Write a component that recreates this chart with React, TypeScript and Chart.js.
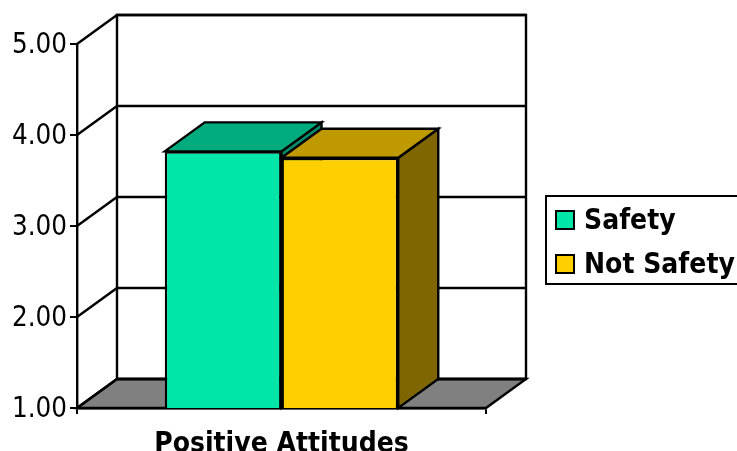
import React, { useEffect, useRef } from "react";
import { Chart, registerables } from "chart.js";

Chart.register(...registerables);

const categories = ["Positive Attitudes"];
const seriesNames = ["Safety", "Not Safety"];
const safetyValues = [3.82];
const notSafetyValues = [3.75];
const frontColors = ["#00E6A8", "#FFCF00"];
const topColors = ["#00AC7E", "#BF9900"];
const sideColors = ["#008C68", "#806600"];
const axisMin = 1;
const axisMax = 5;

const WIDTH = 737;
const HEIGHT = 451;
const DEPTH_X = 40;
const DEPTH_Y = -29;
const LINE = 2.4;
const CHART_RIGHT = 486;
const LEGEND_PADDING = 16;
const LEGEND_X = 560;
const LEGEND_Y = 208;
const FONT = "'DejaVu Sans Condensed', 'DejaVu Sans', sans-serif";

function polygon(ctx: CanvasRenderingContext2D, pts: number[][], fill?: string) {
  ctx.beginPath();
  pts.forEach(([x, y], i) => (i ? ctx.lineTo(x, y) : ctx.moveTo(x, y)));
  ctx.closePath();
  if (fill) {
    ctx.fillStyle = fill;
    ctx.fill();
  }
  ctx.stroke();
}

// Legend marker; the spare rows underneath lift it slightly against its text.
function swatch(color: string) {
  const c = document.createElement("canvas");
  c.width = 20;
  c.height = 24;
  const g = c.getContext("2d")!;
  g.fillStyle = "#000";
  g.fillRect(0, 0, 20, 20);
  g.fillStyle = color;
  g.fillRect(2, 2, 16, 16);
  return c;
}

// Back wall, floor, and the diagonal edges joining the axis to the wall.
const wallsPlugin = {
  id: "walls",
  // The legend sits at a fixed spot to the right of the plot.
  afterLayout(chart: any) {
    chart.legend.left = LEGEND_X - LEGEND_PADDING;
    chart.legend.top = LEGEND_Y - LEGEND_PADDING;
  },
  beforeDraw(chart: any) {
    const { ctx, chartArea: a, scales } = chart;
    const y = scales.y;
    ctx.save();
    ctx.strokeStyle = "#000";
    ctx.lineWidth = LINE;
    polygon(
      ctx,
      [
        [a.left, a.bottom],
        [a.left + DEPTH_X, a.bottom + DEPTH_Y],
        [a.right + DEPTH_X, a.bottom + DEPTH_Y],
        [a.right, a.bottom],
      ],
      "#808080"
    );
    polygon(ctx, [
      [a.left + DEPTH_X, a.top + DEPTH_Y],
      [a.right + DEPTH_X, a.top + DEPTH_Y],
      [a.right + DEPTH_X, a.bottom + DEPTH_Y],
      [a.left + DEPTH_X, a.bottom + DEPTH_Y],
    ]);
    y.ticks.forEach((t: any) => {
      const py = y.getPixelForValue(t.value);
      ctx.beginPath();
      ctx.moveTo(a.left, py);
      ctx.lineTo(a.left + DEPTH_X, py + DEPTH_Y);
      ctx.lineTo(a.right + DEPTH_X, py + DEPTH_Y);
      ctx.stroke();
    });
    // Frame round the legend
    ctx.lineWidth = 2;
    ctx.strokeRect(546, 196, WIDTH, 88);
    ctx.restore();
  },
  // Top and side faces of each bar; the library paints the front faces afterwards.
  beforeDatasetsDraw(chart: any) {
    const { ctx, chartArea } = chart;
    ctx.save();
    ctx.strokeStyle = "#000";
    ctx.lineWidth = LINE;
    ctx.lineJoin = "miter";
    chart.data.datasets.forEach((_: any, i: number) => {
      chart.getDatasetMeta(i).data.forEach((bar: any) => {
        const { x, y, width } = bar.getProps(["x", "y", "width"], true);
        const base = chartArea.bottom;
        const l = x - width / 2;
        const r = x + width / 2;
        polygon(
          ctx,
          [
            [r, y],
            [r + DEPTH_X, y + DEPTH_Y],
            [r + DEPTH_X, base + DEPTH_Y],
            [r, base],
          ],
          sideColors[i]
        );
        polygon(
          ctx,
          [
            [l, y],
            [l + DEPTH_X, y + DEPTH_Y],
            [r + DEPTH_X, y + DEPTH_Y],
            [r, y],
          ],
          topColors[i]
        );
      });
    });
    ctx.restore();
  },
};

export default function App() {
  const ref = useRef<HTMLCanvasElement>(null);

  useEffect(() => {
    const chart = new Chart(ref.current!, {
      type: "bar",
      data: {
        labels: categories,
        datasets: [
          { label: seriesNames[0], data: safetyValues, backgroundColor: frontColors[0] },
          { label: seriesNames[1], data: notSafetyValues, backgroundColor: frontColors[1] },
        ].map((d) => ({
          ...d,
          borderColor: "#000",
          borderWidth: LINE,
          categoryPercentage: 0.571,
          barPercentage: 1,
        })),
      },
      options: {
        responsive: false,
        animation: false,
        layout: { padding: { left: 0, top: 44, bottom: 0, right: 0 } },
        plugins: {
          tooltip: { enabled: false },
          legend: {
            position: "right",
            align: "start",
            labels: {
              color: "#000",
              font: { family: FONT, size: 28, weight: "bold" },
              usePointStyle: true,
              pointStyleWidth: 10,
              padding: LEGEND_PADDING,
              generateLabels: (c: any) =>
                (Chart.defaults.plugins.legend.labels as any)
                  .generateLabels(c)
                  .map((item: any, i: number) => ({ ...item, pointStyle: swatch(frontColors[i]) })),
            },
          },
        },
        scales: {
          x: {
            grid: { offset: true, drawOnChartArea: false, color: "#000", lineWidth: 2, tickLength: 6 },
            border: { color: "#000", width: LINE },
            ticks: { color: "#000", padding: 14, maxRotation: 0, font: { family: FONT, size: 28, weight: "bold" } },
            afterFit(s: any) {
              s.height = 43;
            },
          },
          y: {
            min: axisMin,
            max: axisMax,
            grid: { drawOnChartArea: false, color: "#000", lineWidth: 2, tickLength: 7 },
            border: { color: "#000", width: LINE },
            ticks: {
              stepSize: 1,
              color: "#000",
              padding: 3,
              labelOffset: 2,
              font: { family: FONT, size: 27.5 },
              callback: (v: any) => Number(v).toFixed(2),
            },
            afterFit(s: any) {
              s.width = 77;
            },
          },
          // Empty axis that reserves the gap between the plot and the legend.
          gap: {
            type: "linear",
            position: "right",
            grid: { display: false },
            border: { display: false },
            ticks: { display: false },
            afterFit(s: any) {
              s.width = WIDTH - CHART_RIGHT - s.chart.legend.width;
            },
          },
        },
      } as any,
      plugins: [wallsPlugin],
    });
    return () => chart.destroy();
  }, []);

  return (
    <div style={{ position: "absolute", left: 0, top: 0, width: WIDTH, height: HEIGHT, background: "#fff", overflow: "hidden" }}>
      <canvas ref={ref} width={WIDTH} height={HEIGHT} style={{ display: "block" }} />
    </div>
  );
}
